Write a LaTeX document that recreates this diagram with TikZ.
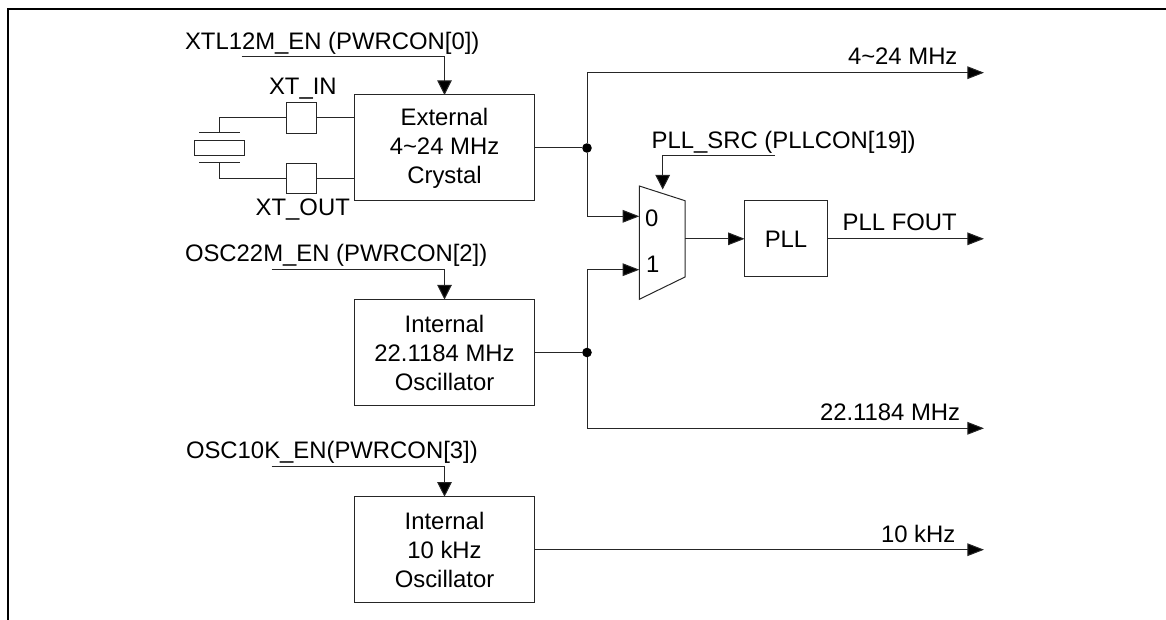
\documentclass[tikz,border=0pt]{standalone}
\usepackage{fontspec}
\setmainfont{Liberation Sans}
\usetikzlibrary{arrows.meta}
\tikzset{
  wire/.style={draw=black!85, line width=0.75pt},
  vtip/.style={wire, -{Triangle[length=11pt,width=11pt,fill=black]}},
  htip/.style={wire, -{Triangle[length=12.5pt,width=9.5pt,fill=black]}},
  blockbox/.style={draw=black!85, line width=0.75pt, inner sep=0pt, outer sep=0pt, align=center,
    font=\fontsize{17.9}{21.75}\selectfont},
  pad/.style={draw=black!85, line width=0.75pt, inner sep=0pt, outer sep=0pt, minimum width=22.5pt, minimum height=23pt},
  lbl/.style={inner sep=0pt, outer sep=0pt, anchor=base west, font=\fontsize{17.9}{21.75}\selectfont},
  junction/.style={circle, fill=black, inner sep=0pt, outer sep=0pt, minimum size=7.2pt},
  frameline/.style={draw=black, line width=1.5pt}
}
\begin{document}
\begin{tikzpicture}[x=0.75pt,y=-0.75pt]
\useasboundingbox (0,0) rectangle (1166,620);
\coordinate (ftr) at (1166,9);
\coordinate (fc) at (8,9);
\coordinate (fbl) at (8,620);
\draw[frameline] (ftr) -- (fc) -- (fbl);

% blocks
\node[blockbox, minimum width=135pt, minimum height=79.5pt] (ext) at (444.5,148) {\raisebox{0pt}{External}\\4\char`\~24 MHz\\Crystal};
\node[blockbox, minimum width=135pt, minimum height=79.5pt] (osc22) at (444.5,352.5) {Internal\\22.1184 MHz\\Oscillator};
\node[blockbox, minimum width=135pt, minimum height=79.5pt] (osc10) at (444.5,549.7) {Internal\\10 kHz\\Oscillator};
\node[blockbox, minimum width=62pt, minimum height=56.8pt] (pll) at (786,238.8) {PLL};
\node[pad] (xin) at (301.7,117.7) {};
\node[pad] (xout) at (301.7,178.5) {};

% crystal
\node[draw=black!85, line width=0.75pt, inner sep=0pt, outer sep=0pt, minimum width=37.5pt, minimum height=11.5pt] (xtal) at (219.3,148) {};
\coordinate (ptl) at (199,133);
\coordinate (ptr) at (239.7,133);
\coordinate (pbl) at (199,163);
\coordinate (pbr) at (239.7,163);
\coordinate (ptm) at (219.3,133);
\coordinate (pbm) at (219.3,163);
\draw[wire] (ptl) -- (ptr);
\draw[wire] (pbl) -- (pbr);
\draw[wire] (ptm) |- (xin.west);
\draw[wire] (pbm) |- (xout.west);
\draw[wire] (xin.east) -- (xin.east -| ext.west);
\draw[wire] (xout.east) -- (xout.east -| ext.west);

% mux
\coordinate (m1) at (639.3,186);
\coordinate (m2) at (685,200.7);
\coordinate (m3) at (685,277);
\coordinate (m4) at (639.3,299.3);
\draw[wire, line join=miter] (m1) -- (m2) -- (m3) -- (m4) -- cycle;
\coordinate (mi0) at (639.3,216.3);
\coordinate (mi1) at (639.3,269.7);
\coordinate (mo) at (685,238.8);
\coordinate (msel) at (662.7,189.5);
\coordinate (selstart) at (775,155.7);

% labels
\node[lbl] (lxtl) at (185,50) {XTL12M\_EN (PWRCON[0])};
\node[lbl] (losc22) at (185,261.7) {OSC22M\_EN (PWRCON[2])};
\node[lbl] (losc10) at (186,458.3) {OSC10K\_EN(PWRCON[3])};
\node[lbl] (lxin) at (269,95) {XT\_IN};
\node[lbl] (lxout) at (255.7,215.7) {XT\_OUT};
\node[lbl] (lsrc) at (651.7,148.2) {PLL\_SRC (PLLCON[19])};
\node[lbl] (l424) at (848,65) {4\char`\~24 MHz};
\node[lbl] (lfout) at (842.7,230.7) {PLL FOUT};
\node[lbl] (l221) at (820,420.5) {22.1184 MHz};
\node[lbl] (l10k) at (881,542) {10 kHz};
\node[lbl] (l0) at (645,226.7) {0};
\node[lbl] (l1) at (646,272.7) {1};

% enables
\coordinate (en1) at (241.7,57);
\coordinate (en2) at (271.5,269.3);
\coordinate (en3) at (271.5,466.3);
\draw[vtip] (en1) -| (ext.north);
\draw[vtip] (en2) -| (osc22.north);
\draw[vtip] (en3) -| (osc10.north);
\draw[vtip] (selstart) -| (msel);

% signal routes
\node[junction] (j1) at (587,148) {};
\node[junction] (j2) at (587,352.5) {};
\coordinate (o1) at (984,72.7);
\coordinate (o2) at (984,238.8);
\coordinate (o3) at (984,428.3);
\coordinate (o4) at (984,549.7);
\draw[wire] (ext.east) -- (j1);
\draw[wire] (osc22.east) -- (j2);
\draw[htip] (j1) |- (o1);
\draw[htip] (j1) |- (mi0);
\draw[htip] (j2) |- (mi1);
\draw[htip] (j2) |- (o3);
\draw[htip] (mo) -- (pll.west);
\draw[htip] (pll.east) -- (o2);
\draw[htip] (osc10.east) -- (o4);
\end{tikzpicture}
\end{document}
